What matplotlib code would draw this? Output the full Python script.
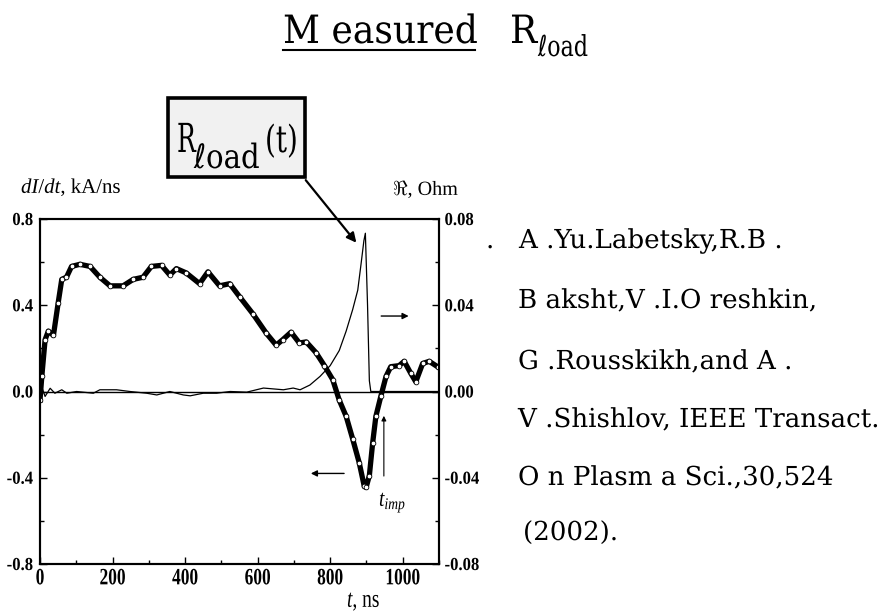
import matplotlib
matplotlib.use("Agg")
import matplotlib.pyplot as plt
from matplotlib.patches import FancyBboxPatch
from matplotlib.lines import Line2D
from matplotlib.patheffects import AbstractPathEffect
from matplotlib.transforms import Affine2D
from matplotlib.ticker import MultipleLocator

# === DATA ===
# dI/dt trace, kA/ns
t_didt = [0, 5, 14, 23, 37, 50, 60, 73, 87, 110, 138, 165, 193, 229, 257, 284,
          307, 335, 358, 376, 403, 440, 463, 495, 523, 550, 587, 624, 651, 669,
          692, 715, 734, 761, 784, 807, 825, 844, 862, 880, 894, 899, 908, 917,
          926, 940, 954, 967, 990, 1004, 1022, 1036, 1055, 1073, 1096]
didt = [-0.04, 0.07, 0.24, 0.28, 0.26, 0.41, 0.52, 0.53, 0.58, 0.59, 0.58, 0.53,
        0.49, 0.49, 0.52, 0.53, 0.58, 0.585, 0.54, 0.57, 0.55, 0.50, 0.555, 0.49,
        0.50, 0.44, 0.36, 0.27, 0.215, 0.24, 0.275, 0.225, 0.23, 0.18, 0.12,
        0.055, -0.04, -0.115, -0.22, -0.33, -0.44, -0.445, -0.39, -0.24, -0.115,
        -0.02, 0.07, 0.115, 0.12, 0.14, 0.085, 0.045, 0.13, 0.14, 0.115]

# load resistance, Ohm
t_res = [0, 5, 14, 28, 41, 60, 74, 101, 147, 165, 211, 248, 294, 322, 358, 395,
         414, 450, 487, 524, 570, 616, 671, 698, 717, 744, 772, 800, 825, 844,
         862, 876, 885, 893, 897, 903, 908, 912, 1000, 1100]
res = [0, 0.002, -0.0023, 0.0015, -0.0008, 0.0008, -0.0008, 0, -0.0008, 0.0008,
       0.0008, 0, -0.0008, -0.0016, 0, -0.0016, -0.002, -0.0008, -0.0008, 0,
       -0.0003, 0.0016, 0.0008, 0.0016, 0.0008, 0.003, 0.007, 0.012, 0.019,
       0.028, 0.038, 0.047, 0.059, 0.070, 0.0734, 0.040, 0.005, 0.0, 0.0, 0.0]

x_ticks = [0, 200, 400, 600, 800, 1000]
left_ticks = [-0.8, -0.4, 0.0, 0.4, 0.8]
right_ticks = [-0.08, -0.04, 0.0, 0.04, 0.08]

ref_lines = ["A .Yu.Labetsky,R.B .",
             "B aksht,V .I.O reshkin,",
             "G .Rousskikh,and A .",
             "V .Shishlov, IEEE Transact.",
             "O n Plasm a Sci.,30,524",
             "(2002)."]

W, H = 892, 612
SLAB = ["DejaVu Serif", "DejaVu Sans"]
SERIF = ["Liberation Serif", "DejaVu Serif"]

plt.rcParams["mathtext.fontset"] = "custom"
plt.rcParams["mathtext.rm"] = "Liberation Serif"
plt.rcParams["mathtext.it"] = "Liberation Serif:italic"
plt.rcParams["mathtext.bf"] = "Liberation Serif:bold"


class Tall(AbstractPathEffect):
    """Draw glyphs stretched vertically about their baseline."""
    def __init__(self, sy):
        super().__init__()
        self.sy = sy

    def draw_path(self, renderer, gc, tpath, affine, rgbFace=None):
        renderer.draw_path(gc, tpath, Affine2D().scale(1, self.sy) + affine, rgbFace)


def fx(x):
    return x / W


def fy(y):
    return 1 - y / H


def put(x, y, s, size, family, sy=1.0, **kw):
    return fig.text(fx(x), fy(y), s, fontsize=size, family=family,
                    va="baseline", path_effects=[Tall(sy)], **kw)


fig = plt.figure(figsize=(W / 100, H / 100), dpi=100)

# === AXES ===
ax = fig.add_axes([fx(40), fy(564), (439 - 40) / W, (564 - 219) / H])
ax2 = ax.twinx()

ax.plot(t_didt, didt, color="black", lw=3.8, marker="o", ms=3.4,
        mfc="white", mec="black", mew=0.6, zorder=3)
ax2.plot(t_res, res, color="black", lw=0.9, zorder=2)
ax.axhline(0, color="black", lw=1.0, zorder=1)

ax.set_xlim(0, 1100)
ax.set_ylim(-0.8, 0.8)
ax2.set_ylim(-0.08, 0.08)

ax.set_xticks(x_ticks)
ax.xaxis.set_minor_locator(MultipleLocator(100))
ax.set_yticks(left_ticks)
ax.yaxis.set_minor_locator(MultipleLocator(0.2))
ax2.set_yticks(right_ticks)
ax2.yaxis.set_minor_locator(MultipleLocator(0.02))

ax.set_xticklabels([str(v) for v in x_ticks])
ax.set_yticklabels(["%.1f" % v for v in left_ticks])
ax2.set_yticklabels(["%.2f" % v for v in right_ticks])

for a in (ax, ax2):
    a.tick_params(which="both", direction="in", width=1.0)
    a.tick_params(which="major", length=5)
    a.tick_params(which="minor", length=3)
    for sp in a.spines.values():
        sp.set_linewidth(1.5)
ax.tick_params(axis="x", pad=6)
ax.tick_params(axis="y", pad=5)
ax2.tick_params(axis="y", pad=4)

for lab in ax.get_xticklabels():
    lab.set_fontfamily(SERIF)
    lab.set_fontweight("bold")
    lab.set_fontsize(12.5)
    lab.set_path_effects([Tall(1.35)])
for lab in ax.get_yticklabels() + ax2.get_yticklabels():
    lab.set_fontfamily(SERIF)
    lab.set_fontweight("bold")
    lab.set_fontsize(12)
    lab.set_path_effects([Tall(1.1)])

# axis captions
put(21, 193, "$dI/dt$, kA/ns", 15, SERIF)
put(393, 195, r"$\Re$, Ohm", 14.5, SERIF)
put(347, 607, "$t$, ns", 14, SERIF, sy=1.3)
put(379, 506, "$t_{imp}$", 14, SERIF, sy=1.2)

# direction arrows for the two scales
arrow = dict(arrowstyle="-|>", color="black", lw=1.0, mutation_scale=9)
ax.annotate("", xy=(1024, 0.35), xytext=(933, 0.35), arrowprops=arrow)
ax.annotate("", xy=(739, -0.38), xytext=(846, -0.38), arrowprops=arrow)
ax.annotate("", xy=(948, -0.10), xytext=(948, -0.405),
            arrowprops=dict(arrowstyle="-|>", color="black", lw=0.8,
                            mutation_scale=7))

# === TITLE ===
put(283, 43, "M easured", 26, SLAB, sy=1.08)
fig.add_artist(Line2D([fx(283), fx(475)], [fy(50), fy(50)], color="black", lw=1.5))
put(510, 43, "R", 26, SLAB, sy=1.08)
put(538, 56, "\u2113oad", 16, SLAB, sy=1.3)

# === LABEL BOX ===
fig.add_artist(FancyBboxPatch((fx(168), fy(177)), (305 - 168) / W, (177 - 98) / H,
                              boxstyle="square,pad=0", transform=fig.transFigure,
                              facecolor="#f1f1f1", edgecolor="black", lw=2.6))
put(177, 152, "R", 18, SLAB, sy=1.6)
put(194, 168, "\u2113oad", 21, SLAB, sy=1.15)
put(265, 152, "(t)", 20, SLAB, sy=1.35)
ax2.annotate("", xy=(877, 0.068), xycoords="data",
             xytext=(fx(304), fy(178)), textcoords="figure fraction",
             arrowprops=dict(arrowstyle="-|>", color="black", lw=1.6,
                             mutation_scale=14))

# === REFERENCE TEXT ===
put(486, 248, ".", 18.8, SLAB)
ref_x = [519, 518, 518, 518, 518, 523]
ref_y = [248, 308, 369, 427, 485, 540]
for x, y, s in zip(ref_x, ref_y, ref_lines):
    put(x, y, s, 18.8, SLAB)

fig.savefig("out.png", dpi=100)
